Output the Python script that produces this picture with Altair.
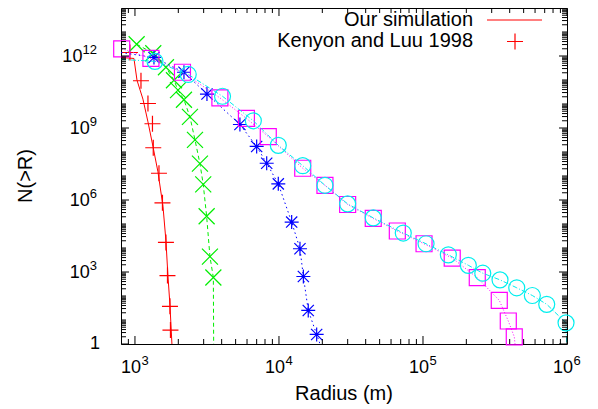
import math
import altair as alt
import pandas as pd

# ---------------- data ----------------
# "Our simulation" (red solid line)
sim_r = [800, 984, 1033, 1136, 1231, 1334, 1444, 1565, 1641, 1694, 1750, 1806]
sim_n = [8.7e11, 7.9e11, 9.8e10, 1.6e10, 1.8e9, 1.7e8, 1.5e7, 5.5e5, 2.0e4, 710, 41, 1]

# "Kenyon and Luu 1998" (red +)
kl_r = [923, 1101, 1231, 1323, 1340, 1468, 1552, 1641, 1682, 1750, 1764]
kl_n = [1.4e12, 9.3e10, 1.05e10, 1.5e9, 1.5e8, 1.3e7, 7.6e5, 1.7e4, 710, 37, 3.8]

# green x, dashed line
green_r = [1027, 1340, 1641, 1866, 1990, 2189, 2409, 2611, 2826, 2979, 3146, 3317, 3502]
green_n = [3.1e12, 1.3e12, 3.4e11, 9.8e10, 3.8e10, 1.5e10, 2.9e9, 3.2e8, 3.3e7, 4.5e6, 2.1e5, 4.4e3, 590]
green_end_r, green_end_n = [3520], [1]

# blue asterisks, dotted line
blue_r = [1355, 2189, 3162, 5356, 7000, 8218, 9893, 12250, 13990, 14770, 15970, 18270]
blue_n = [8.7e11, 2.1e11, 2.6e10, 1.4e9, 1.7e8, 3.4e7, 4.7e6, 1.2e5, 9.3e3, 650, 25, 2.5]
blue_start_r, blue_start_n = [800], [1.4e12]
blue_end_r, blue_end_n = [19280], [1]

# magenta squares, dotted line
mag_r = [809, 1291, 2137, 3889, 5942, 8427, 14620, 20860, 29980, 45160, 66340,
         101700, 159600, 238200, 338600, 391100, 430400]
mag_n = [2.0e12, 7.9e11, 2.1e11, 1.8e10, 2.5e9, 4.4e8, 2.1e7, 4.1e6, 6.5e5, 1.7e5,
         5.1e4, 1.5e4, 3.8e3, 580, 66, 9.1, 2.0]
mag_end_r, mag_end_n = [435500], [1]

# cyan circles, dash-dot line
cyan_r = [1377, 2344, 4055, 6637, 9893, 14620, 20860, 29980, 45160, 72960, 105000,
          150000, 206500, 260100, 342600, 447700, 574500, 723200, 984600]
cyan_n = [6.0e11, 1.7e11, 2.1e10, 2.0e9, 1.9e8, 2.7e7, 4.1e6, 6.9e5, 1.8e5, 4.2e4,
          1.5e4, 5.2e3, 1.9e3, 890, 470, 220, 105, 45, 7.6]
cyan_start_r, cyan_start_n = [800], [7.2e11]
cyan_end_r, cyan_end_n = [995000], [1]

legend_labels = ["Our simulation", "Kenyon and Luu 1998"]
x_title = "Radius (m)"
y_title = "N(>R)"

# tick labels: "10" with a superscript exponent
x_label_values = [1e3, 1e4, 1e5, 1e6]
x_label_exps = ["3", "4", "5", "6"]
y_label_values = [1e3, 1e6, 1e9, 1e12]
y_label_exps = ["3", "6", "9", "12"]
y_one_value = [1]

# tick marks
x_major_ticks = [1e3, 1e4, 1e5, 1e6]
x_minor_ticks = [900, 2000, 3000, 4000, 5000, 6000, 7000, 8000, 9000,
                 2e4, 3e4, 4e4, 5e4, 6e4, 7e4, 8e4, 9e4,
                 2e5, 3e5, 4e5, 5e5, 6e5, 7e5, 8e5, 9e5]
y_major_ticks = [1, 1e3, 1e6, 1e9, 1e12]
y_minor_ticks = [k * 10.0 ** n for n in range(0, 14) for k in range(1, 10)
                 if not (k == 1 and n % 3 == 0)]

# ---------------- layout / style ----------------
W, H = 446, 336
X_MIN, X_MAX = 800.0, 1e6
Y_MIN, Y_MAX = 1.0, 1e14
FONT = "Liberation Sans"
xs = alt.Scale(type="log", domain=[X_MIN, X_MAX], nice=False)
ys = alt.Scale(type="log", domain=[Y_MIN, Y_MAX], nice=False)

RED, GREEN, BLUE, MAGENTA, CYAN = "#ff0000", "#00ee00", "#0000ff", "#ff00ff", "#00eeee"

PLUS = "M-1,0L1,0M0,-1L0,1"
XSHAPE = "M-1,-1L1,1M-1,1L1,-1"
STAR = "M-1,0L1,0M0,-1L0,1M-0.8,-0.8L0.8,0.8M-0.8,0.8L0.8,-0.8"

MAJOR_LEN, MINOR_LEN = 8, 5          # tick lengths in pixels
X_PX_PER_DEC = W / math.log10(X_MAX / X_MIN)
Y_PX_PER_DEC = H / math.log10(Y_MAX / Y_MIN)


def xfac(px):
    return 10 ** (px / X_PX_PER_DEC)


def yfac(px):
    return 10 ** (px / Y_PX_PER_DEC)


def df(r, n):
    return pd.DataFrame({"r": r, "n": n})


def enc(chart):
    return chart.encode(
        x=alt.X("r:Q", scale=xs, axis=None),
        y=alt.Y("n:Q", scale=ys, axis=None),
    )


layers = []

# ---- data series ----
layers.append(enc(alt.Chart(df(sim_r, sim_n)).mark_line(color=RED, strokeWidth=1)))
layers.append(enc(alt.Chart(df(kl_r, kl_n)).mark_point(
    shape=PLUS, size=256, filled=False, color=RED, strokeWidth=1.2, opacity=1)))

layers.append(enc(alt.Chart(df(green_r + green_end_r, green_n + green_end_n)).mark_line(
    color=GREEN, strokeWidth=1, strokeDash=[4, 3])))
layers.append(enc(alt.Chart(df(green_r, green_n)).mark_point(
    shape=XSHAPE, size=256, filled=False, color=GREEN, strokeWidth=1.2, opacity=1)))

layers.append(enc(alt.Chart(df(blue_start_r + blue_r + blue_end_r,
                               blue_start_n + blue_n + blue_end_n)).mark_line(
    color=BLUE, strokeWidth=1, strokeDash=[1.5, 3])))
layers.append(enc(alt.Chart(df(blue_r, blue_n)).mark_point(
    shape=STAR, size=196, filled=False, color=BLUE, strokeWidth=1.2, opacity=1)))

layers.append(enc(alt.Chart(df(mag_r + mag_end_r, mag_n + mag_end_n)).mark_line(
    color=MAGENTA, strokeWidth=1, strokeDash=[1, 2])))
layers.append(enc(alt.Chart(df(mag_r, mag_n)).mark_point(
    shape="square", size=256, filled=False, color=MAGENTA, strokeWidth=1.2, opacity=1)))

layers.append(enc(alt.Chart(df(cyan_start_r + cyan_r + cyan_end_r,
                               cyan_start_n + cyan_n + cyan_end_n)).mark_line(
    color=CYAN, strokeWidth=1, strokeDash=[5, 2, 1, 2])))
layers.append(enc(alt.Chart(df(cyan_r, cyan_n)).mark_point(
    shape="circle", size=256, filled=False, color=CYAN, strokeWidth=1.2, opacity=1)))

# ---- inward ticks on all four sides, drawn through both scales ----
xt_vals = x_major_ticks + x_minor_ticks
xt_lens = [MAJOR_LEN] * len(x_major_ticks) + [MINOR_LEN] * len(x_minor_ticks)
yt_vals = y_major_ticks + y_minor_ticks
yt_lens = [MAJOR_LEN] * len(y_major_ticks) + [MINOR_LEN] * len(y_minor_ticks)

ticks_bottom = pd.DataFrame({"tx": xt_vals, "ty": [Y_MIN] * len(xt_vals),
                             "ty2": [Y_MIN * yfac(l) for l in xt_lens]})
ticks_top = pd.DataFrame({"tx": xt_vals, "ty": [Y_MAX] * len(xt_vals),
                          "ty2": [Y_MAX / yfac(l) for l in xt_lens]})
ticks_left = pd.DataFrame({"ty": yt_vals, "tx": [X_MIN] * len(yt_vals),
                           "tx2": [X_MIN * xfac(l) for l in yt_lens]})
ticks_right = pd.DataFrame({"ty": yt_vals, "tx": [X_MAX] * len(yt_vals),
                            "tx2": [X_MAX / xfac(l) for l in yt_lens]})

for tdf in (ticks_bottom, ticks_top):
    layers.append(alt.Chart(tdf).mark_rule(color="black", strokeWidth=1).encode(
        x=alt.X("tx:Q", scale=xs, axis=None),
        y=alt.Y("ty:Q", scale=ys, axis=None),
        y2="ty2:Q"))
for tdf in (ticks_left, ticks_right):
    layers.append(alt.Chart(tdf).mark_rule(color="black", strokeWidth=1).encode(
        y=alt.Y("ty:Q", scale=ys, axis=None),
        x=alt.X("tx:Q", scale=xs, axis=None),
        x2="tx2:Q"))

# ---- tick labels ----
xl = pd.DataFrame({"v": x_label_values, "base": ["10"] * len(x_label_values), "exp": x_label_exps})
layers.append(alt.Chart(xl).mark_text(align="right", baseline="alphabetic", font=FONT, fontSize=18,
                                      color="black", dx=6).encode(
    x=alt.X("v:Q", scale=xs, axis=None), y=alt.value(H + 29), text="base:N"))
layers.append(alt.Chart(xl).mark_text(align="left", baseline="alphabetic", font=FONT, fontSize=13,
                                      color="black", dx=6.5).encode(
    x=alt.X("v:Q", scale=xs, axis=None), y=alt.value(H + 21), text="exp:N"))

EXP_RIGHT = -24          # right edge of the exponent, relative to the plot's left edge
EXP_DIGIT = 7.3          # width of one exponent digit
yl = pd.DataFrame({"v": y_label_values, "base": ["10"] * len(y_label_values), "exp": y_label_exps})
yl["bx"] = [EXP_RIGHT - EXP_DIGIT * len(e) for e in y_label_exps]
layers.append(alt.Chart(yl).mark_text(align="right", baseline="middle", font=FONT, fontSize=18,
                                      color="black", dy=1).encode(
    y=alt.Y("v:Q", scale=ys, axis=None), x=alt.X("bx:Q", scale=None, axis=None), text="base:N"))
layers.append(alt.Chart(yl).mark_text(align="right", baseline="middle", font=FONT, fontSize=13,
                                      color="black", dy=-6).encode(
    y=alt.Y("v:Q", scale=ys, axis=None), x=alt.value(EXP_RIGHT), text="exp:N"))
layers.append(alt.Chart(pd.DataFrame({"v": y_one_value, "t": ["1"]})).mark_text(
    align="right", baseline="middle", font=FONT, fontSize=18, color="black", dy=0).encode(
    y=alt.Y("v:Q", scale=ys, axis=None), x=alt.value(-21), text="t:N"))

# ---- axis titles ----
layers.append(alt.Chart(pd.DataFrame({"t": [x_title]})).mark_text(
    align="center", baseline="alphabetic", font=FONT, fontSize=20, color="black").encode(
    x=alt.value(W / 2), y=alt.value(392), text="t:N"))
layers.append(alt.Chart(pd.DataFrame({"t": [y_title]})).mark_text(
    align="center", baseline="middle", font=FONT, fontSize=20, color="black", angle=270).encode(
    x=alt.value(-95), y=alt.value(168), text="t:N"))

# ---- key (top right, gnuplot style: text then sample) ----
one = pd.DataFrame({"t": [legend_labels[0]]})
two = pd.DataFrame({"t": [legend_labels[1]]})
layers.append(alt.Chart(one).mark_text(align="right", baseline="middle", font=FONT, fontSize=20,
                                       color="black").encode(x=alt.value(352), y=alt.value(12), text="t:N"))
layers.append(alt.Chart(two).mark_text(align="right", baseline="middle", font=FONT, fontSize=20,
                                       color="black").encode(x=alt.value(352), y=alt.value(33), text="t:N"))
layers.append(alt.Chart(one).mark_rule(color=RED, strokeWidth=1).encode(
    x=alt.value(366), x2=alt.value(421), y=alt.value(12)))
layers.append(alt.Chart(two).mark_point(shape=PLUS, size=256, filled=False, color=RED,
                                        strokeWidth=1.2, opacity=1).encode(x=alt.value(394), y=alt.value(33.5)))

chart = (
    alt.layer(*layers)
    .properties(
        width=W, height=H, background="white",
        padding={"left": 113, "top": 0, "right": 23, "bottom": 65},
        autosize=alt.AutoSizeParams(type="none"),
    )
    .configure_view(stroke="black", strokeWidth=1)
)

chart.save("out.html", embed_options={"renderer": "svg", "actions": False})
